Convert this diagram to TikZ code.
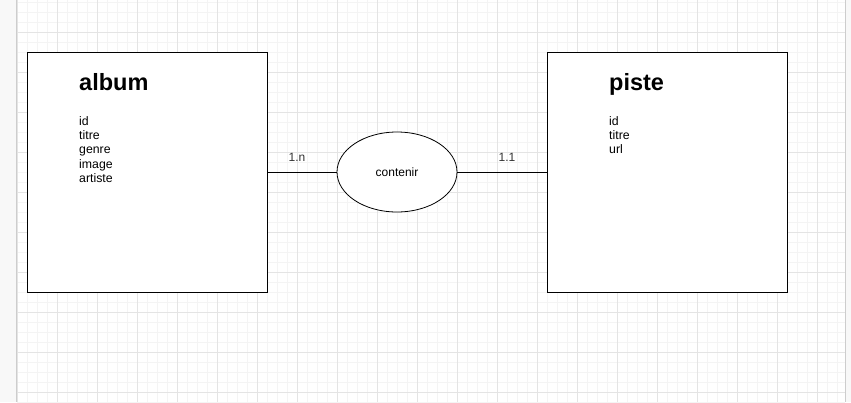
\documentclass[tikz,border=0pt]{standalone}
\usepackage{fontspec}
\setmainfont{Liberation Sans}
\usetikzlibrary{shapes.geometric}
\definecolor{minorgrid}{HTML}{F4F4F4}
\definecolor{majorgrid}{HTML}{E4E4E4}
\definecolor{sidebar}{HTML}{F8F8F8}
\definecolor{labelcol}{HTML}{333333}
\tikzset{
  entity/.style={draw=black, line width=1pt, fill=white, minimum width=240pt, minimum height=240pt, inner sep=0pt},
  relation/.style={ellipse, draw=black, line width=0.8pt, fill=white, minimum width=120pt, minimum height=80pt, inner sep=0pt, font=\fontsize{12}{14}\selectfont},
  titletext/.style={anchor=base west, inner sep=0pt, font=\fontsize{23.5}{28}\selectfont\bfseries},
  attrtext/.style={anchor=north west, inner sep=0pt, align=left, font=\fontsize{12.3}{14.3}\selectfont},
  card/.style={inner sep=0pt, text=labelcol, font=\fontsize{12}{14}\selectfont},
  link/.style={draw=black, line width=1pt}
}
\begin{document}
\begin{tikzpicture}[x=1pt,y=-1pt]
\useasboundingbox (0,0) rectangle (851,402);
\fill[white] (0,0) rectangle (851,402);
% side strips
\fill[sidebar] (0,0) rectangle (16,402);
\fill[sidebar] (845,0) rectangle (851,402);
% minor grid
\foreach \x in {27,37,...,844} \draw[minorgrid, line width=0.6pt] (\x,0) -- (\x,402);
\foreach \y in {2,12,...,402} \draw[minorgrid, line width=0.6pt] (17,\y) -- (845,\y);
% major grid
\foreach \x in {17,57,...,844} \draw[majorgrid, line width=0.8pt] (\x,0) -- (\x,402);
\foreach \y in {32,72,...,402} \draw[majorgrid, line width=0.8pt] (17,\y) -- (845,\y);
\draw[majorgrid!90!black, line width=1pt] (16.5,0) -- (16.5,402);
\draw[majorgrid!90!black, line width=1pt] (845,0) -- (845,402);

% entities
\node[entity] (album) at (147,172) {};
\node[entity] (piste) at (667,172) {};
\node[relation] (contenir) at (397,172) {contenir};

\node[titletext] (albumtitle) at (79,90) {album};
\node[attrtext] (albumattr) at (79,116) {id\\titre\\genre\\image\\artiste};
\node[titletext] (pistetitle) at (609,90) {piste};
\node[attrtext] (pisteattr) at (609,116) {id\\titre\\url};

% connectors
\draw[link] (album.east) -- (contenir.west);
\draw[link] (contenir.east) -- (piste.west);

\node[card] (c1) at (297,157) {1.n};
\node[card] (c2) at (507,157) {1.1};
\end{tikzpicture}
\end{document}
